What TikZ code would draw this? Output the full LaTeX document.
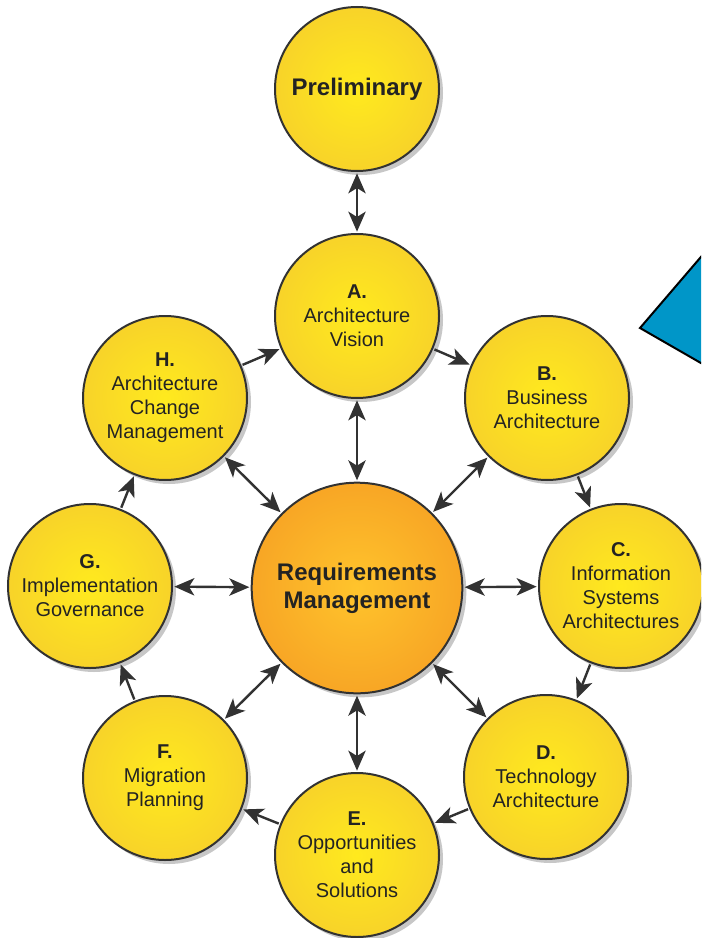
\documentclass[tikz,border=0pt]{standalone}
\usepackage{fontspec}
\setmainfont{Liberation Sans}
\usetikzlibrary{arrows.meta,shadows}

\definecolor{phaseinner}{RGB}{255,234,30}
\definecolor{phaseouter}{RGB}{240,188,52}
\definecolor{hubinner}{RGB}{255,196,44}
\definecolor{hubouter}{RGB}{240,136,30}
\definecolor{rimgray}{RGB}{50,50,50}
\definecolor{inkgray}{RGB}{35,35,35}
\definecolor{tipblue}{RGB}{0,150,200}

\pgfdeclareradialshading{phaseglow}{\pgfpoint{0bp}{0bp}}{color(0bp)=(phaseinner); color(50bp)=(phaseouter)}
\pgfdeclareradialshading{hubglow}{\pgfpoint{0bp}{0bp}}{color(0bp)=(hubinner); color(50bp)=(hubouter)}

\tikzset{every picture/.style={line width=0.75pt}}
\tikzset{
  phase/.style={circle,draw=rimgray,line width=1.5pt,shading=phaseglow,minimum size=123pt,inner sep=0pt,
    align=center,text=inkgray,font=\fontsize{15}{18}\selectfont,
    drop shadow={shadow xshift=3pt,shadow yshift=-3pt,opacity=0.22,fill=black}},
  hub/.style={phase,shading=hubglow,minimum size=158pt,font=\fontsize{18}{21}\selectfont\bfseries},
  link/.style={draw=rimgray,line width=1.8pt,shorten <=1pt,shorten >=1pt,{Stealth[length=15pt,width=13pt,inset=4pt]}-{Stealth[length=15pt,width=13pt,inset=4pt]}},
  onelink/.style={draw=rimgray,line width=1.8pt,shorten <=1pt,shorten >=1pt,-{Stealth[length=15pt,width=13pt,inset=4pt]}}
}

\begin{document}
\begin{tikzpicture}[x=0.75pt,y=0.75pt,yscale=-1,xscale=1]
        \useasboundingbox (0,0) rectangle (701,938);
        \clip (0,0) rectangle (701,938);

        %Triangle
        \draw [fill=tipblue,draw=black,line width=1.5pt]  (640,328) -- (760,188) -- (760,397) -- cycle ;

        %Circle nodes
        \node [phase,font=\fontsize{18}{21}\selectfont\bfseries] (prelim) at (357,89) {Preliminary};
        \node [phase] (visionA) at (357,316) {\textbf{A.}\\Architecture\\Vision};
        \node [phase] (bizB) at (547,398) {\textbf{B.}\\Business\\Architecture};
        \node [phase] (isC) at (621,586) {\textbf{C.}\\Information\\Systems\\Architectures};
        \node [phase] (techD) at (546,777) {\textbf{D.}\\Technology\\Architecture};
        \node [phase] (oppE) at (357,855) {\textbf{E.}\\Opportunities\\and\\Solutions};
        \node [phase] (migF) at (165,778) {\textbf{F.}\\Migration\\Planning};
        \node [phase] (govG) at (90,586) {\textbf{G.}\\Implementation\\Governance};
        \node [phase] (changeH) at (165,398) {\textbf{H.}\\Architecture\\Change\\Management};
        \node [hub] (reqmgmt) at (357,588) {Requirements\\Management};

        %Straight Lines
        \draw [link] (prelim) -- (visionA) ;
        \foreach \p in {visionA,bizB,isC,techD,oppE,migF,govG,changeH}
          \draw [link] (reqmgmt) -- (\p) ;

        %Cycle
        \foreach \a/\b in {visionA/bizB,bizB/isC,isC/techD,techD/oppE,oppE/migF,migF/govG,govG/changeH,changeH/visionA}
          \draw [onelink] (\a) -- (\b) ;

\end{tikzpicture}
\end{document}
